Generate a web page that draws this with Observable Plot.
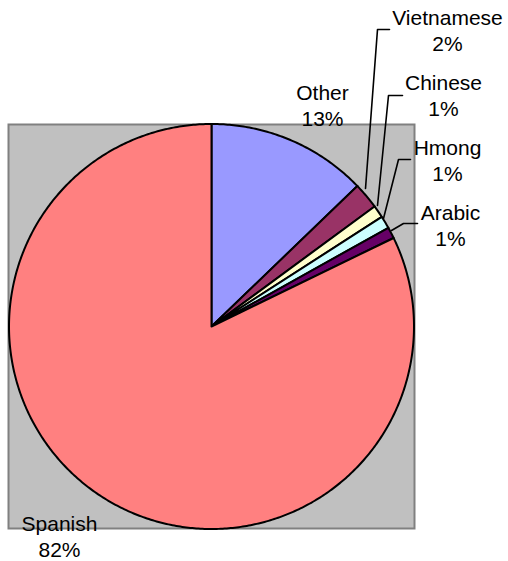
<!DOCTYPE html>
<html>
<head>
<meta charset="utf-8">
<script src="https://cdn.jsdelivr.net/npm/d3@7"></script>
<script src="https://cdn.jsdelivr.net/npm/@observablehq/plot@0.6"></script>
<style>
  html, body { margin: 0; padding: 0; background: #fff; }
  #chart { width: 508px; height: 561px; }
  svg { display: block; }
</style>
</head>
<body>
<div id="chart"></div>
<script>
// ---- data ----
const languages = ["Other", "Vietnamese", "Chinese", "Hmong", "Arabic", "Spanish"];
const shares = [12.8, 2.1, 1.0, 1.0, 0.9, 82.2];
const percentLabels = ["13%", "2%", "1%", "1%", "1%", "82%"];
const colors = ["#9999FF", "#993366", "#FFFFCC", "#CCFFFF", "#660066", "#FF8080"];

// ---- layout (label anchors and leader lines, offsets from pie centre in px) ----
const labelX = [111, 236, 232, 236, 239, -152];
const labelY = [222, 297, 232, 167, 102, -209];
const leaderLang = ["Vietnamese", "Chinese", "Hmong", "Arabic"];
const leaderX = [[178, 166, 154], [191, 177, 166], [199, 187, 172], [206, 192, 180]];
const leaderY = [[297, 297, 138], [231, 231, 121], [167, 167, 108], [103, 103, 96]];

const R = 202.5;
const arcs = d3.pie().sort(null).value(d => d.v)(languages.map((l, i) => ({l, v: shares[i]})));
const slicePts = [];
arcs.forEach(a => {
  const lang = a.data.l;
  slicePts.push({lang, x: 0, y: 0});
  const n = Math.max(2, Math.ceil((a.endAngle - a.startAngle) / 0.01));
  for (let k = 0; k <= n; k++) {
    const t = a.startAngle + (a.endAngle - a.startAngle) * k / n;
    slicePts.push({lang, x: R * Math.sin(t), y: R * Math.cos(t)});
  }
  slicePts.push({lang, x: 0, y: 0});
});

const labels = languages.map((l, i) => ({text: l + "\n" + percentLabels[i], x: labelX[i], y: labelY[i]}));
const leaders = [];
leaderLang.forEach((l, i) => leaderX[i].forEach((x, k) => leaders.push({lang: l, x, y: leaderY[i][k]})));

const chart = Plot.plot({
  width: 508,
  height: 561,
  marginLeft: 8,
  marginRight: 94,
  marginTop: 124,
  marginBottom: 33,
  x: {domain: [-203, 203], axis: null},
  y: {domain: [-202, 202], axis: null},
  color: {domain: languages, range: colors},
  style: {fontFamily: "'Liberation Sans', Arial, sans-serif", fontSize: "21px", background: "white"},
  marks: [
    Plot.frame({fill: "#C0C0C0", stroke: "#808080", strokeWidth: 2}),
    Plot.line(slicePts, {x: "x", y: "y", z: "lang", fill: "lang", stroke: "black", strokeWidth: 2, curve: "linear", strokeLinejoin: "round"}),
    Plot.line(leaders, {x: "x", y: "y", z: "lang", stroke: "black", strokeWidth: 1.6}),
    Plot.text(labels, {x: "x", y: "y", text: "text", fontSize: 21, lineHeight: 1.26, fill: "black", textAnchor: "middle", lineAnchor: "middle"})
  ]
});
document.getElementById("chart").appendChild(chart);
</script>
</body>
</html>
